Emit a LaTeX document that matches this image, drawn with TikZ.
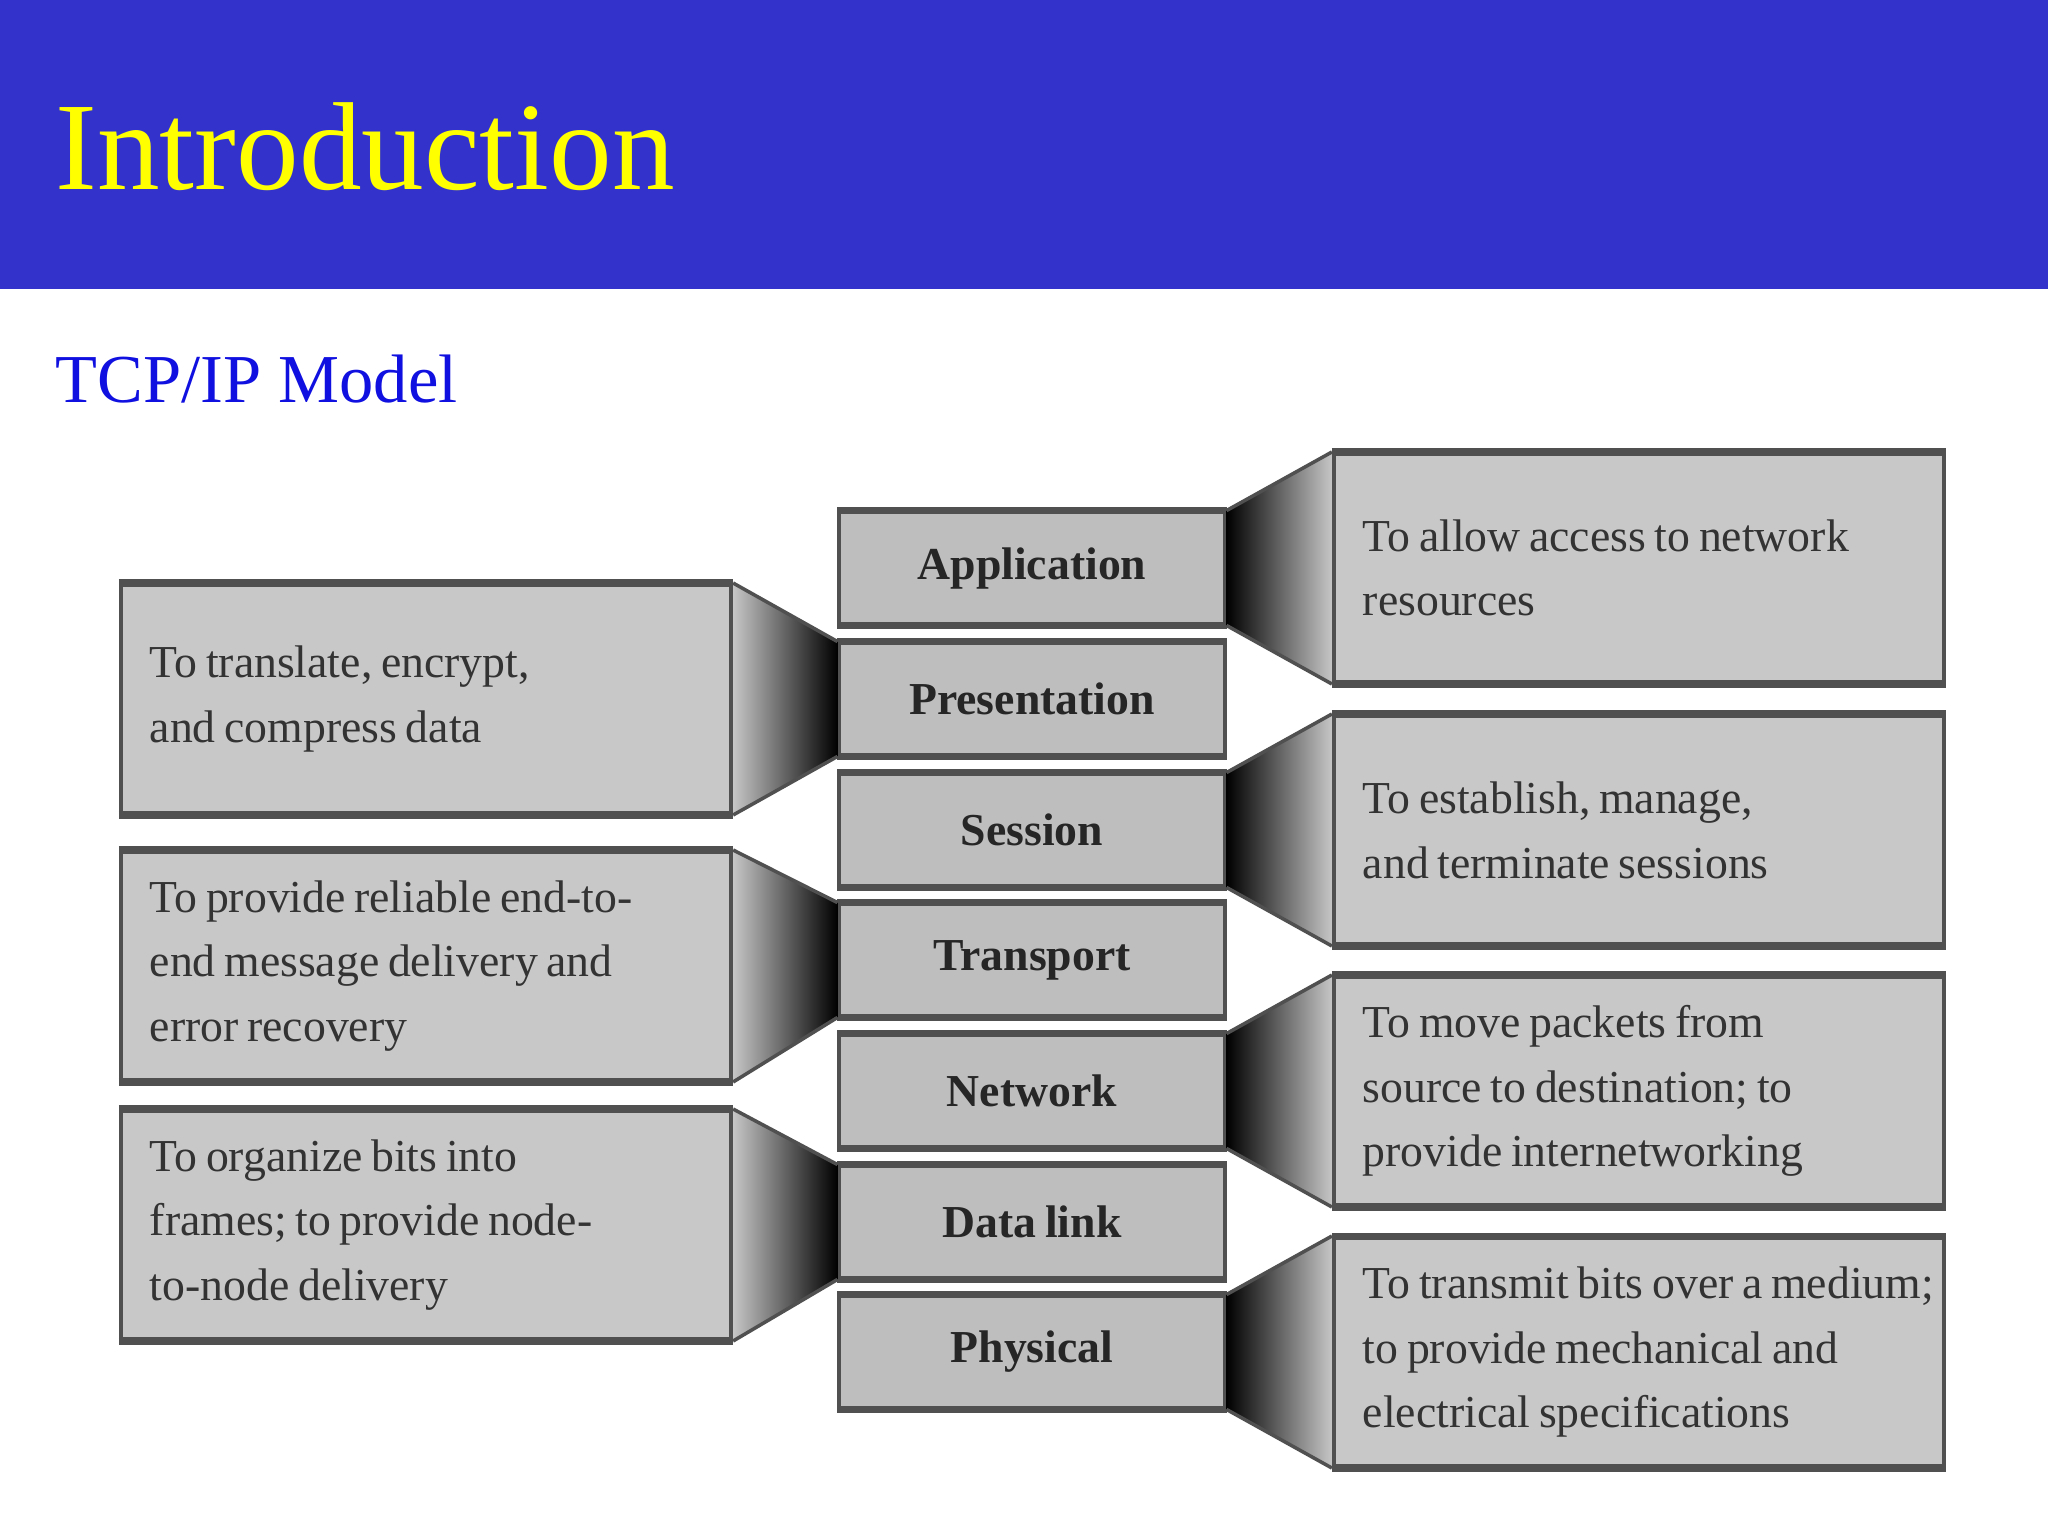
\documentclass[tikz,border=0pt]{standalone}
\usepackage{fontspec}
\setmainfont{Liberation Serif}
\newfontfamily\figfont{Liberation Serif}
\newcommand\tightsp{\spaceskip=0.19em plus 0.04em\relax\xspaceskip=0.25em\relax}
\definecolor{band}{RGB}{51,51,204}
\definecolor{heading}{RGB}{255,255,0}
\definecolor{subhead}{RGB}{16,16,224}
\definecolor{boxfill}{RGB}{200,200,200}
\definecolor{layerfill}{RGB}{190,190,190}
\definecolor{rim}{RGB}{80,80,80}
\begin{document}
\begin{tikzpicture}[x=0.01cm, y=-0.01cm,
	layer/.style = {draw = rim, line width = 1.1pt, fill = layerfill, minimum width = 3.85cm, minimum height = 1.11cm, inner sep = 0pt, font = \figfont\fontsize{13}{16}\selectfont\bfseries\tightsp, text = black!85},
	duty/.style = {draw = rim, line width = 1.1pt, fill = boxfill, minimum width = 6.1cm, minimum height = 2.28cm, text width = 5.52cm, inner xsep = 0.29cm, inner ysep = 0pt, align = left, font = \figfont\fontsize{13}{18.4}\selectfont, execute at begin node = \tightsp, text = black!80},
	rimline/.style = {draw = rim, line width = 2pt},
	funnel/.style = {draw = rim, line width = 1pt, line join = round}]
	\useasboundingbox (0,0) rectangle (2048,1536);
	\fill[band] (0,0) rectangle (2048,289);
	\node (title) at (55, 189)	[anchor = base west, inner sep = 0pt, text = heading, font = \fontsize{35.6}{40}\selectfont]	{Introduction};
	\node (model) at (55, 402)	[anchor = base west, inner sep = 0pt, text = subhead, font = \fontsize{19.5}{22}\selectfont]	{TCP/IP Model};

	\node (L7) at (1032,  568)	[layer]	{Application};
	\node (L6) at (1032,  699)	[layer]	{Presentation};
	\node (L5) at (1032,  830)	[layer]	{Session};
	\node (L4) at (1032,  960)	[layer]	{Transport};
	\node (L3) at (1032, 1091)	[layer]	{Network};
	\node (L2) at (1032, 1222)	[layer]	{Data link};
	\node (L1) at (1032, 1352)	[layer]	{Physical};

	\node (D7) at (1639,  568)	[duty]	{To allow access to network\\resources};
	\node (D6) at ( 426,  699)	[duty]	{To translate, encrypt,\\and compress data};
	\node (D5) at (1639,  830)	[duty]	{To establish, manage,\\and terminate sessions};
	\node (D4) at ( 426,  966)	[duty]	{To provide reliable end-to-\\end message delivery and\\error recovery};
	\node (D3) at (1639, 1091)	[duty]	{To move packets from\\source to destination; to\\provide internetworking};
	\node (D2) at ( 426, 1225)	[duty]	{To organize bits into\\frames; to provide node-\\to-node delivery};
	\node (D1) at (1639, 1352)	[duty]	{\mbox{To transmit bits over a medium;}\\to provide mechanical and\\electrical specifications};

	\foreach \n in {1,...,7}
		\draw[rimline] (L\n.north west) -- (L\n.north east) (L\n.south west) -- (L\n.south east)
			(D\n.north west) -- (D\n.north east) (D\n.south west) -- (D\n.south east);
	\foreach \n in {6,4,2} {
		\shade[left color = gray!45, right color = black] (D\n.north east) -- (L\n.north west) -- (L\n.south west) -- (D\n.south east) -- cycle;
		\draw[funnel] (D\n.north east) -- (L\n.north west) (D\n.south east) -- (L\n.south west);
	}
	\foreach \n in {7,5,3,1} {
		\shade[left color = black, right color = gray!45] (L\n.north east) -- (D\n.north west) -- (D\n.south west) -- (L\n.south east) -- cycle;
		\draw[funnel] (L\n.north east) -- (D\n.north west) (L\n.south east) -- (D\n.south west);
	}
\end{tikzpicture}
\end{document}
